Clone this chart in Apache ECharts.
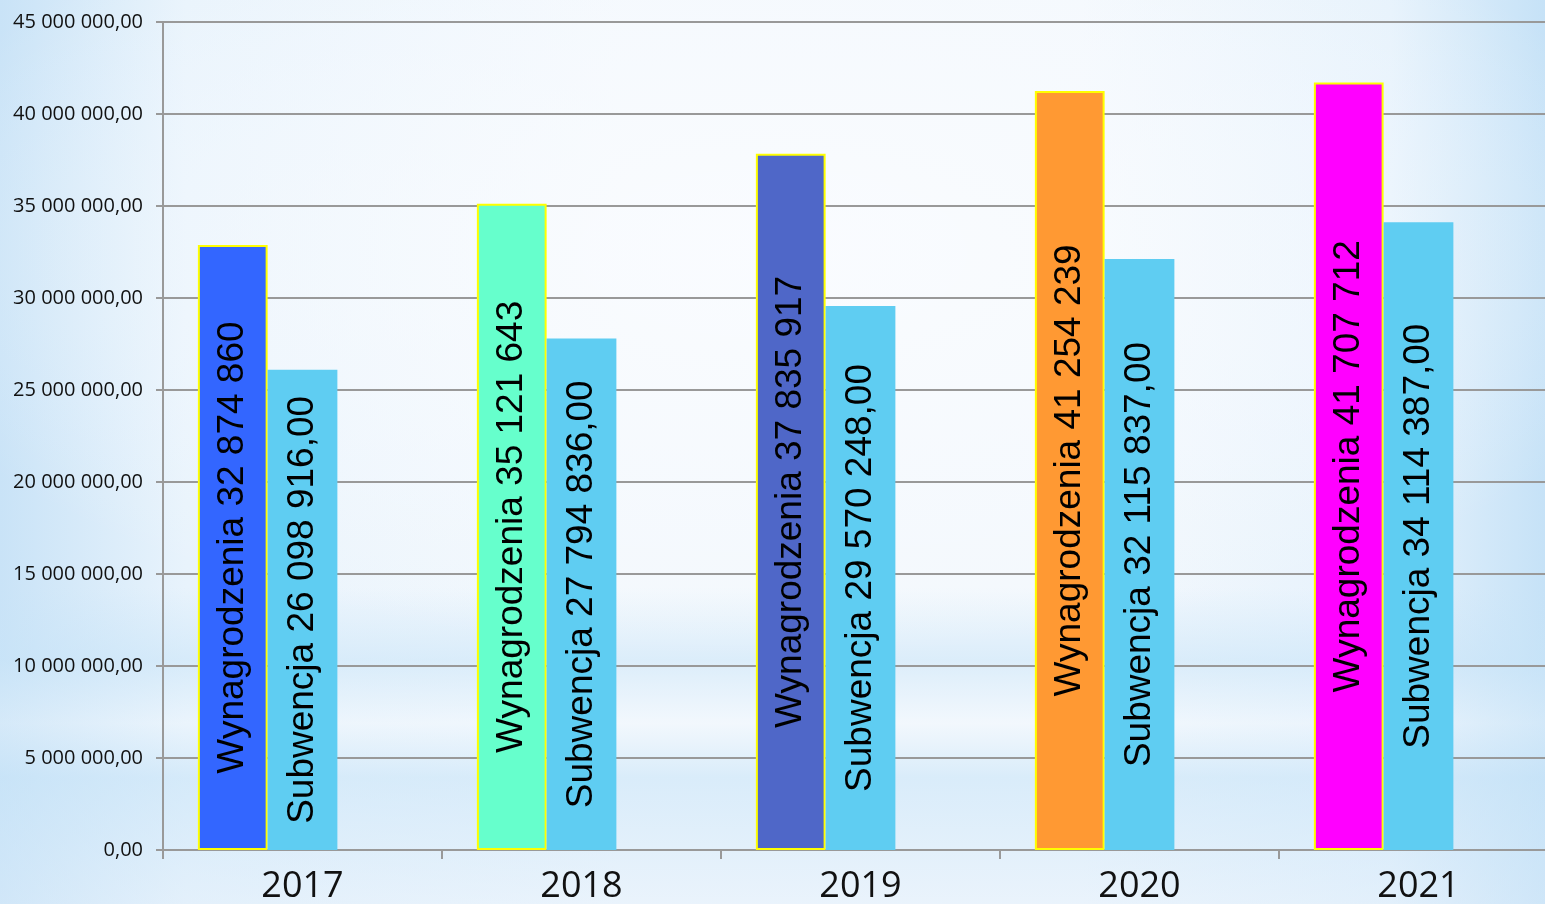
<!DOCTYPE html>
<html>
<head>
<meta charset="utf-8">
<script src="https://cdn.jsdelivr.net/npm/echarts@6/dist/echarts.min.js"></script>
<style>
  html, body { margin: 0; padding: 0; }
  body {
    width: 1545px; height: 904px; overflow: hidden;
    background:
      radial-gradient(ellipse 60% 45% at 50% 28%, rgba(250,252,255,0.95), rgba(250,252,255,0) 100%),
      linear-gradient(180deg, rgba(255,255,255,0) 65%, rgba(200,228,248,0.55) 73%, rgba(240,247,253,0.3) 80%, rgba(200,228,248,0.6) 86%, rgba(220,236,250,0.4) 100%),
      linear-gradient(90deg, #c9e3f7 0%, #e8f3fc 12%, #f3f8fd 40%, #f3f8fd 70%, #e6f2fc 90%, #c6e2f7 100%);
  }
  #chart { width: 1545px; height: 904px; }
</style>
</head>
<body>
<div id="chart"></div>
<script>
// data
const years = ['2017', '2018', '2019', '2020', '2021']
const wynagrodzenia = [32874860, 35121643, 37835917, 41254239, 41707712]
const subwencja = [26098916, 27794836, 29570248, 32115837, 34114387]
const wynColors = ['#3366ff', '#66ffcc', '#4f67c8', '#ff9933', '#ff00ff']

function spaced(n) {
  return String(Math.round(n)).replace(/\B(?=(\d{3})+(?!\d))/g, ' ')
}

const chart = echarts.init(document.getElementById('chart'))

const labelBase = {
  show: true,
  position: 'inside',
  rotate: 90,
  color: '#000',
  fontFamily: 'Liberation Sans',
  fontSize: 37,
}

const option = {
  backgroundColor: 'transparent',
  animation: false,
  grid: {
    left: 163,
    width: 1395, // plot runs a bit past the right edge, like the original
    top: 22,
    bottom: 54,
    outerBoundsMode: 'none',
  },
  xAxis: {
    type: 'category',
    data: years,
    axisLine: { lineStyle: { color: '#999', width: 2 } },
    axisTick: { show: true, length: 9, lineStyle: { color: '#999', width: 2 } },
    axisLabel: {
      color: '#111',
      fontFamily: 'Open Sans',
      fontSize: 36,
      margin: 19,
    },
  },
  yAxis: {
    type: 'value',
    min: 0,
    max: 45000000,
    interval: 5000000,
    axisLine: { show: true, lineStyle: { color: '#999', width: 2 } },
    axisTick: { show: true, length: 7, lineStyle: { color: '#999', width: 2 } },
    splitLine: { lineStyle: { color: '#999', width: 2 } },
    axisLabel: {
      color: '#111',
      fontFamily: 'Open Sans',
      fontSize: 20,
      margin: 20,
      formatter: v => spaced(v) + ',00',
    },
  },
  series: [
    {
      name: 'Wynagrodzenia',
      type: 'bar',
      barGap: '0%',
      barCategoryGap: '25%',
      data: wynagrodzenia.map((v, i) => ({
        value: v,
        itemStyle: { color: wynColors[i] },
      })),
      itemStyle: { borderColor: '#ffff00', borderWidth: 2 },
      label: { ...labelBase, formatter: p => 'Wynagrodzenia ' + spaced(p.value) },
    },
    {
      name: 'Subwencja',
      type: 'bar',
      barGap: '0%',
      barCategoryGap: '25%',
      data: subwencja,
      itemStyle: { color: '#5fcdf2' },
      label: { ...labelBase, formatter: p => 'Subwencja ' + spaced(p.value) + ',00' },
    },
    {
      // empty third series, keeps the bar pair offset to the left like the original
      name: '',
      type: 'bar',
      barGap: '0%',
      barCategoryGap: '25%',
      data: years.map(() => null),
    },
  ],
}

chart.setOption(option)
</script>
</body>
</html>
